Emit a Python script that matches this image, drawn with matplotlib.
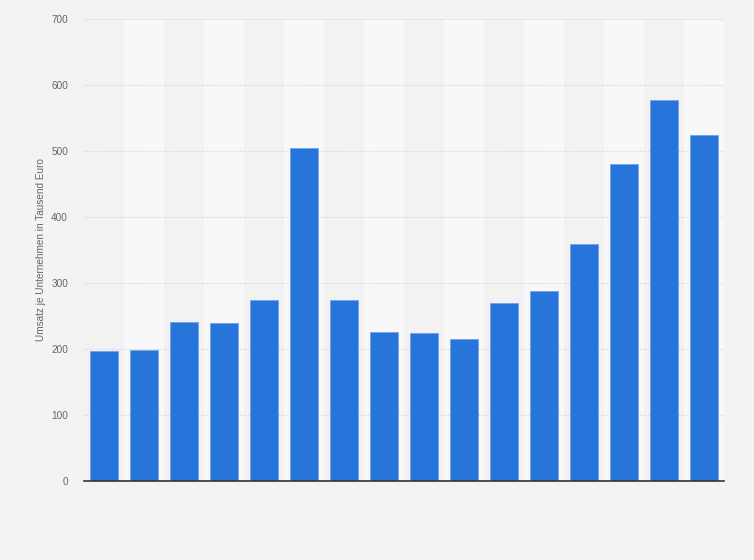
import matplotlib.pyplot as plt

plt.rcParams['font.family'] = ['Liberation Sans', 'DejaVu Sans']

# values per company group (Umsatz je Unternehmen, Tsd. Euro)
positions = list(range(16))
umsatz = [197, 198, 241, 239, 274, 505, 274, 226, 224, 215, 270, 288, 359, 480, 577, 524]
y_ticks = [0, 100, 200, 300, 400, 500, 600, 700]

fig = plt.figure(figsize=(7.54, 5.60), dpi=100)
fig.patch.set_facecolor('#f3f3f3')
ax = fig.add_axes([84 / 754, 79 / 560, 640 / 754, 462 / 560])
ax.set_facecolor('#f3f3f3')

# alternating column bands
for i in positions:
    ax.axvspan(i - 0.5, i + 0.5, color='#f2f2f2' if i % 2 == 0 else '#f8f8f8', zorder=0, lw=0)

for y in y_ticks[1:]:
    ax.axhline(y, color='#d2d2d2', lw=0.8, ls=(0, (1, 1.5)), zorder=1)

ax.bar(positions, umsatz, width=0.7, color='#2775db', edgecolor='#6fa3ea', linewidth=0.6, zorder=3)

ax.set_xlim(-0.5, 15.5)
ax.set_ylim(0, 700)
ax.set_yticks(y_ticks)
ax.set_yticklabels([str(v) for v in y_ticks], fontsize=7.2, color='#666666')
ax.set_xticks([])
ax.tick_params(axis='y', length=0, pad=11.5)

for side in ['top', 'right', 'left']:
    ax.spines[side].set_visible(False)
ax.spines['bottom'].set_color('#333333')
ax.spines['bottom'].set_linewidth(1.2)
ax.spines['bottom'].set_zorder(4)

ax.set_ylabel('Umsatz je Unternehmen in Tausend Euro', fontsize=7.2, color='#666666', labelpad=3.5)

plt.savefig('out.png', dpi=100, facecolor=fig.get_facecolor())
